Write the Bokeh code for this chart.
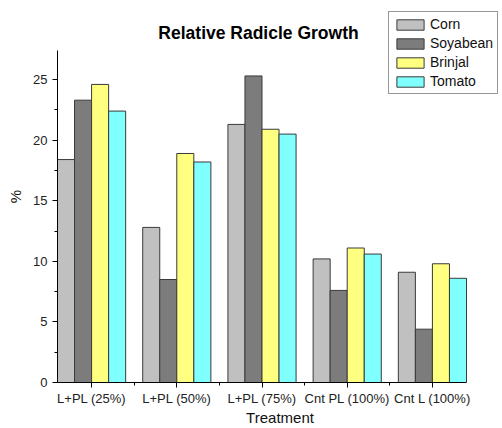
from bokeh.plotting import figure
from bokeh.models import (Range1d, FixedTicker, SingleIntervalTicker, Legend, LegendItem,
                          ColumnDataSource, Label)
from bokeh.embed import file_html
from bokeh.resources import INLINE

treatments = ["L+PL (25%)", "L+PL (50%)", "L+PL (75%)", "Cnt PL (100%)", "Cnt L (100%)"]
series = ["Corn", "Soyabean", "Brinjal", "Tomato"]
corn = [18.4, 12.8, 21.3, 10.2, 9.1]
soyabean = [23.3, 8.5, 25.3, 7.6, 4.4]
brinjal = [24.6, 18.9, 20.9, 11.1, 9.8]
tomato = [22.4, 18.2, 20.5, 10.6, 8.6]
colors = ["#C0C0C0", "#7C7C7C", "#FFFF80", "#80FFFF"]

FONT = "Liberation Sans"

# layout: frame spans extra room (for title and legend); axes are bounded to the data area
W, H = 502, 428
BL, BR, BT, BB = 57, 0, 10, 46
FW, FH = W - BL - BR, H - BT - BB
AX_W, AX_H = 409, 332          # pixel extent of the visible axes
X0, X1 = -0.4, 4.4
Y0, Y1 = 0, 27.4
x_end = X0 + (X1 - X0) * FW / AX_W
y_end = Y0 + (Y1 - Y0) * FH / AX_H

p = figure(width=W, height=H, output_backend="svg", toolbar_location=None,
           x_range=Range1d(X0, x_end), y_range=Range1d(Y0, y_end),
           min_border_left=BL, min_border_right=BR, min_border_top=BT, min_border_bottom=BB)
p.outline_line_color = None
p.xgrid.visible = False
p.ygrid.visible = False

idx = list(range(len(treatments)))
offsets = [-0.3, -0.1, 0.1, 0.3]
items = []
for name, vals, col, off in zip(series, [corn, soyabean, brinjal, tomato], colors, offsets):
    src = ColumnDataSource(dict(x=[i + off for i in idx], top=vals))
    r = p.vbar(x="x", top="top", width=0.2, bottom=0, source=src,
               fill_color=col, line_color="#3a3a3a", line_width=1)
    items.append(LegendItem(label=name, renderers=[r]))

legend = Legend(items=items, location=(331, 288), border_line_color="#303030",
                border_line_width=1, background_fill_alpha=1,
                padding=4, margin=0, spacing=3, glyph_width=34, glyph_height=13,
                label_standoff=3, label_height=14,
                label_text_font=FONT, label_text_font_size="14px", label_text_color="#111111")
p.add_layout(legend, "center")

title = Label(x=201, y=350, x_units="screen", y_units="screen", text="Relative Radicle Growth",
              text_align="center", text_baseline="middle", text_font=FONT,
              text_font_size="17.5px", text_font_style="bold", text_color="#000000")
p.add_layout(title)

xa = p.xaxis[0]
xa.ticker = FixedTicker(ticks=idx, minor_ticks=[0.5, 1.5, 2.5, 3.5])
xa.major_label_overrides = {i: t for i, t in zip(idx, treatments)}
xa.axis_label = "Treatment"
xa.bounds = (X0, X1)
ya = p.yaxis[0]
ya.ticker = SingleIntervalTicker(interval=5, num_minor_ticks=2)
ya.axis_label = "%"
ya.bounds = (Y0, Y1)

for ax in (xa, ya):
    ax.axis_line_color = "#000000"
    ax.major_tick_line_color = "#000000"
    ax.minor_tick_line_color = "#000000"
    ax.major_tick_out = 5
    ax.major_tick_in = 0
    ax.minor_tick_out = 3
    ax.minor_tick_in = 0
    ax.major_label_standoff = 3
    ax.axis_label_standoff = 6
    ax.major_label_text_font = FONT
    ax.major_label_text_font_size = "13px"
    ax.major_label_text_color = "#222222"
    ax.axis_label_text_font = FONT
    ax.axis_label_text_font_size = "15px"
    ax.axis_label_text_font_style = "normal"
    ax.axis_label_text_color = "#111111"
ya.major_label_standoff = 5
xa.axis_label_standoff = 0

open("out.html", "w").write(file_html(p, INLINE))
